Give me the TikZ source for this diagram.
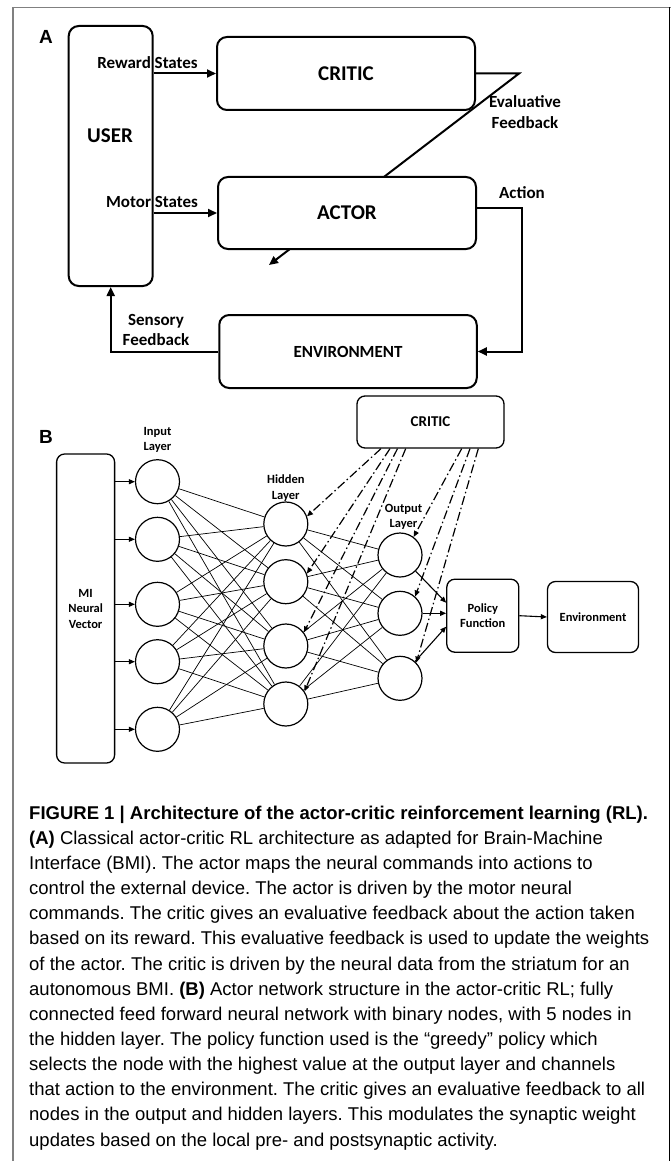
\documentclass[tikz,border=0pt]{standalone}
\usepackage{fontspec}
\setmainfont{Carlito}
\newfontfamily\captionfont{Liberation Sans}
\newfontfamily\panelfont{Liberation Sans}
\usepackage{tikz}
\usetikzlibrary{arrows, arrows.meta}
\tikzset{block/.style = {shape = rectangle, draw, line width = 2pt, rounded corners = 10pt, fill = white}}
\tikzset{smallblock/.style = {shape = rectangle, draw, line width = 1.3pt, rounded corners = 8pt}}
\tikzset{neuron/.style = {shape = circle, draw, line width = 1.2pt, minimum size = 44pt, inner sep = 0pt}}
\tikzset{flow/.style = {line width = 2pt, -{Triangle[length = 9pt, width = 8pt]}}}
\tikzset{edge/.style = {line width = 0.7pt}}
\tikzset{feed/.style = {line width = 1.1pt, -{Triangle[length = 6pt, width = 5pt]}}}
\tikzset{reinforce/.style = {line width = 1.2pt, dash pattern = on 9pt off 3pt on 1.5pt off 3pt, -{Triangle[length = 6pt, width = 5pt]}}}
\tikzset{bigtext/.style = {font = \fontsize{21}{24}\selectfont\bfseries}}
\tikzset{midtext/.style = {font = \fontsize{17}{20.5}\selectfont\bfseries, align = center}}
\tikzset{smalltext/.style = {font = \fontsize{12.5}{15.5}\selectfont\bfseries, align = center}}
\tikzset{paneltext/.style = {font = \fontsize{19}{22}\selectfont\panelfont\bfseries}}
\tikzset{captiontext/.style = {font = \fontsize{18.5}{25.13}\selectfont\captionfont\frenchspacing, align = left, inner sep = 0pt}}

\begin{document}
\begin{tikzpicture}[x = 1pt, y = -1pt]
			\fill[white] (0, 0) rectangle (671, 1161);
			\useasboundingbox (0, 0) rectangle (671, 1161);
			\draw[gray, line width = 1.5pt] (13.2, 1161) -- (13.2, 7.5) -- (671, 7.5);
			\draw[black, line width = 1pt] (669.5, 7.5) -- (669.5, 1161);

			% panel A
			\node[paneltext] (labela) at (46, 37) {A};
			\node[block, minimum width = 84pt, minimum height = 260pt] (user) at (110.7, 156) {};
			\node[bigtext] (usertext) at (110, 136) {USER};
			\node[block, bigtext, minimum width = 258pt, minimum height = 73pt] (critic) at (346, 73.5) {CRITIC};

			\coordinate (bend) at (519, 73.5);
			\coordinate (tip) at (269, 265);
			\draw[flow] (critic.east) -- (bend) -- (tip);

			\node[block, bigtext, minimum width = 258pt, minimum height = 72pt] (actor) at (347, 213) {ACTOR};
			\node[block, font = \fontsize{17}{20}\selectfont\bfseries, minimum width = 257.5pt, minimum height = 73pt] (environment) at (348, 351.5) {ENVIRONMENT};

			\draw[flow] (user.east |- critic.west) to (critic.west);
			\draw[flow] (user.east |- actor.west) to (actor.west);
			\draw[flow] ([yshift = 5pt]actor.east) -- ++(45, 0) |- (environment.east);
			\draw[flow] (environment.west) -| (user.south);

			\node[midtext] (reward) at (147.5, 63) {Reward States};
			\node[midtext] (motor) at (152, 202) {Motor States};
			\node[midtext] (evaluative) at (525, 112) {Evaluative\\Feedback};
			\node[midtext] (action) at (522, 193) {Action};
			\node[midtext] (sensory) at (156, 330) {Sensory\\Feedback};

			% panel B
			\node[paneltext] (labelb) at (46, 437) {B};
			\node[smallblock, smalltext, minimum width = 58pt, minimum height = 309pt] (mi) at (85.6, 608.5) {MI\\Neural\\Vector};

			\node[neuron] (i1) at (157.5, 481.7) {};
			\node[neuron] (i2) at (157.5, 539.3) {};
			\node[neuron] (i3) at (157.5, 604.3) {};
			\node[neuron] (i4) at (157.5, 661.7) {};
			\node[neuron] (i5) at (157.5, 729.3) {};

			\node[neuron] (h1) at (285.8, 524) {};
			\node[neuron] (h2) at (285.8, 581.7) {};
			\node[neuron] (h3) at (285.8, 646) {};
			\node[neuron] (h4) at (285.8, 704) {};

			\node[neuron] (o1) at (400, 555) {};
			\node[neuron] (o2) at (400, 613.3) {};
			\node[neuron] (o3) at (400, 678.3) {};

			\node[smalltext] (inlabel) at (157.5, 440) {Input\\Layer};
			\node[smalltext] (hidlabel) at (285.8, 488) {Hidden\\Layer};
			\node[smalltext] (outlabel) at (403.5, 517) {Output\\Layer};

			\node[smallblock, font = \fontsize{15}{18}\selectfont\bfseries, minimum width = 147pt, minimum height = 52pt] (criticb) at (430.5, 422) {CRITIC};
			\node[smallblock, smalltext, minimum width = 72pt, minimum height = 73pt] (policy) at (482.8, 615.7) {Policy\\Function};
			\node[smallblock, smalltext, minimum width = 91pt, minimum height = 71pt] (world) at (593, 617) {Environment};

			\draw[feed] (mi.east |- i1) to (i1);
			\draw[feed] (mi.east |- i2) to (i2);
			\draw[feed] (mi.east |- i3) to (i3);
			\draw[feed] (mi.east |- i4) to (i4);
			\draw[feed] (mi.east |- i5) to (i5);

			\draw[edge] (i1) to (h1);
			\draw[edge] (i1) to (h2);
			\draw[edge] (i1) to (h3);
			\draw[edge] (i1) to (h4);
			\draw[edge] (i2) to (h1);
			\draw[edge] (i2) to (h2);
			\draw[edge] (i2) to (h3);
			\draw[edge] (i2) to (h4);
			\draw[edge] (i3) to (h1);
			\draw[edge] (i3) to (h2);
			\draw[edge] (i3) to (h3);
			\draw[edge] (i3) to (h4);
			\draw[edge] (i4) to (h1);
			\draw[edge] (i4) to (h2);
			\draw[edge] (i4) to (h3);
			\draw[edge] (i4) to (h4);
			\draw[edge] (i5) to (h1);
			\draw[edge] (i5) to (h2);
			\draw[edge] (i5) to (h3);
			\draw[edge] (i5) to (h4);

			\draw[edge] (h1) to (o1);
			\draw[edge] (h1) to (o2);
			\draw[edge] (h1) to (o3);
			\draw[edge] (h2) to (o1);
			\draw[edge] (h2) to (o2);
			\draw[edge] (h2) to (o3);
			\draw[edge] (h3) to (o1);
			\draw[edge] (h3) to (o2);
			\draw[edge] (h3) to (o3);
			\draw[edge] (h4) to (o1);
			\draw[edge] (h4) to (o2);
			\draw[edge] (h4) to (o3);

			\draw[feed] (o1) to ([yshift = 13pt]policy.west);
			\draw[feed] (o2) to (o2 -| policy.west);
			\draw[feed] (o3) to ([yshift = -11pt]policy.west);
			\draw[feed] (policy.east) to (world.west);

			\draw[reinforce] ([xshift = -49.5pt]criticb.south) to (h1.20);
			\draw[reinforce] ([xshift = -40.5pt]criticb.south) to (h2.21);
			\draw[reinforce] ([xshift = -33pt]criticb.south) to (h3.37);
			\draw[reinforce] ([xshift = -24.8pt]criticb.south) to (h4.34);
			\draw[reinforce] ([xshift = 31.2pt]criticb.south) to (o1.53);
			\draw[reinforce] ([xshift = 39.5pt]criticb.south) to (o2.48);
			\draw[reinforce] ([xshift = 47.8pt]criticb.south) to (o3.44);

			% caption
			\node[captiontext, anchor = base west] (caption) at (29, 1146) {{\bfseries FIGURE 1 | Architecture of the actor-critic reinforcement learning (RL).}\\
				{\bfseries (A)} Classical actor-critic RL architecture as adapted for Brain-Machine\\
				Interface (BMI). The actor maps the neural commands into actions to\\
				control the external device. The actor is driven by the motor neural\\
				commands. The critic gives an evaluative feedback about the action taken\\
				based on its reward. This evaluative feedback is used to update the weights\\
				of the actor. The critic is driven by the neural data from the striatum for an\\
				autonomous BMI. {\bfseries (B)} Actor network structure in the actor-critic RL; fully\\
				connected feed forward neural network with binary nodes, with 5 nodes in\\
				the hidden layer. The policy function used is the “greedy” policy which\\
				selects the node with the highest value at the output layer and channels\\
				that action to the environment. The critic gives an evaluative feedback to all\\
				nodes in the output and hidden layers. This modulates the synaptic weight\\
				updates based on the local pre- and postsynaptic activity.};
		\end{tikzpicture}
\end{document}
